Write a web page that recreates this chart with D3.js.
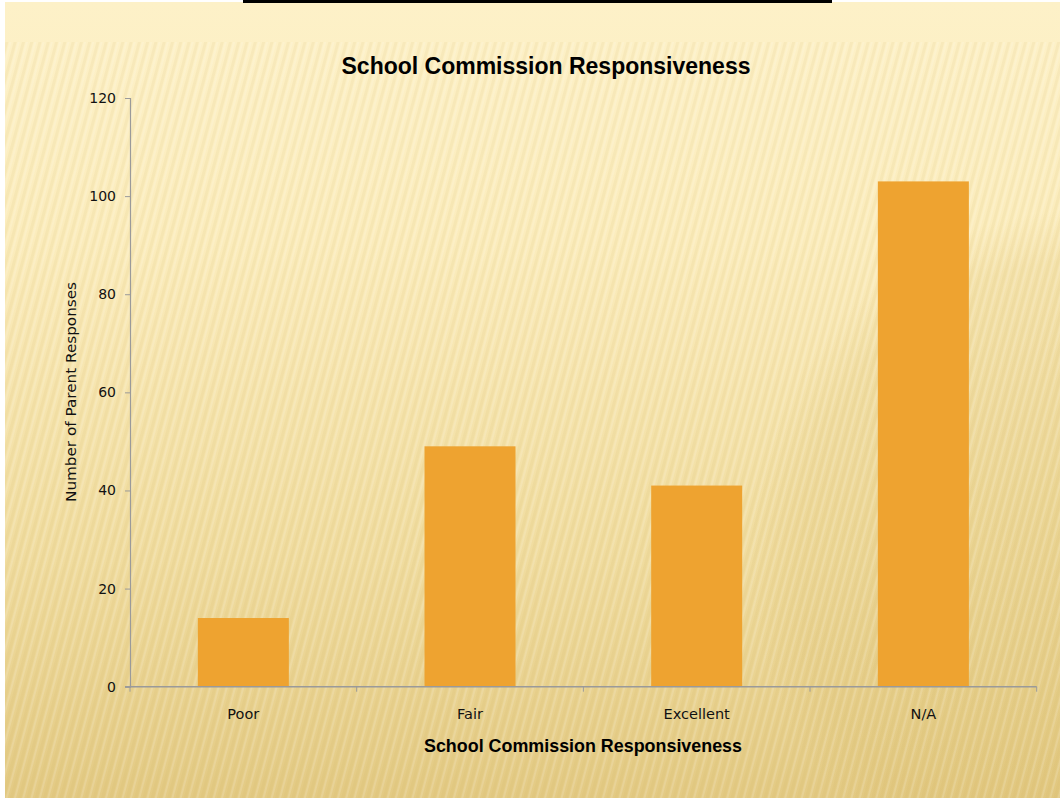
<!DOCTYPE html>
<html>
<head>
<meta charset="utf-8">
<script src="https://cdn.jsdelivr.net/npm/d3@7"></script>
<style>
  html, body { margin: 0; padding: 0; background: #ffffff; }
  svg { display: block; }
</style>
</head>
<body>
<svg id="chart" width="1060" height="798"></svg>
<script>
const categories = ["Poor", "Fair", "Excellent", "N/A"];
const values = [14, 49, 41, 103];
const yTicks = [0, 20, 40, 60, 80, 100, 120];
const chartTitle = "School Commission Responsiveness";
const xAxisTitle = "School Commission Responsiveness";
const yAxisTitle = "Number of Parent Responses";

(function () {
const W = 1060, H = 798;
const svg = d3.select("#chart");
const defs = svg.append("defs");

// background gradient
const bg = defs.append("linearGradient").attr("id", "bgGrad")
  .attr("x1", 0).attr("y1", 0).attr("x2", 0).attr("y2", 1);
bg.append("stop").attr("offset", "0%").attr("stop-color", "#fdf1c8");
bg.append("stop").attr("offset", "30%").attr("stop-color", "#fbecbc");
bg.append("stop").attr("offset", "70%").attr("stop-color", "#f0dc9f");
bg.append("stop").attr("offset", "100%").attr("stop-color", "#e3ca84");

const shade = defs.append("radialGradient").attr("id", "shade")
  .attr("cx", 0.5).attr("cy", 0.5).attr("r", 0.5);
shade.append("stop").attr("offset", "0%").attr("stop-color", "#d9bd6e").attr("stop-opacity", 0.3);
shade.append("stop").attr("offset", "85%").attr("stop-color", "#d9bd6e").attr("stop-opacity", 0.18);
shade.append("stop").attr("offset", "100%").attr("stop-color", "#d9bd6e").attr("stop-opacity", 0);

const pat = defs.append("pattern").attr("id", "stripes")
  .attr("patternUnits", "userSpaceOnUse").attr("width", 8).attr("height", 8)
  .attr("patternTransform", "rotate(15)");
pat.append("rect").attr("width", 3).attr("height", 8).attr("fill", "#c9a94f").attr("opacity", 0.09);
pat.append("rect").attr("x", 4).attr("width", 2).attr("height", 8).attr("fill", "#ffffff").attr("opacity", 0.14);

svg.append("rect").attr("x", 5).attr("y", 2).attr("width", W - 5).attr("height", H - 2).attr("fill", "url(#bgGrad)");
svg.append("ellipse").attr("cx", 1080).attr("cy", 560).attr("rx", 330).attr("ry", 350).attr("fill", "url(#shade)");
svg.append("rect").attr("x", 5).attr("y", 42).attr("width", W - 5).attr("height", H - 42).attr("fill", "url(#stripes)");

// top black bar
svg.append("rect").attr("x", 243).attr("y", 0).attr("width", 589).attr("height", 3).attr("fill", "#000");

// plot area
const pLeft = 130, pRight = 1036.7, pTop = 98, pBottom = 686.7;
const xb = d3.scaleBand().domain(categories).range([pLeft, pRight]);
const y = d3.scaleLinear().domain([0, 120]).range([pBottom, pTop]);

// bars
svg.append("g").selectAll("rect").data(values).join("rect")
  .attr("x", (d, i) => xb(categories[i]) + xb.bandwidth() / 2 - 45.5)
  .attr("width", 91)
  .attr("y", d => y(d))
  .attr("height", d => pBottom - y(d))
  .attr("fill", "#eea330");

// y axis
const yAxis = svg.append("g").attr("transform", `translate(${pLeft},0)`)
  .call(d3.axisLeft(y).tickValues(yTicks).tickSize(5).tickPadding(9));
yAxis.select(".domain").attr("stroke", "#9a9a9a").attr("stroke-width", 1.2);
yAxis.selectAll(".tick line").attr("stroke", "#9a9a9a");
yAxis.selectAll("text").attr("fill", "#111").style("font-family", "'DejaVu Sans', sans-serif").style("font-size", "14px");

// x axis (ticks at category boundaries)
const xAxisG = svg.append("g").attr("transform", `translate(0,${pBottom})`);
xAxisG.append("line").attr("x1", pLeft - 5).attr("x2", pRight).attr("y1", 0).attr("y2", 0)
  .attr("stroke", "#9a9a9a").attr("stroke-width", 1.5);
const boundaries = categories.map(c => xb(c)).concat([pRight]);
xAxisG.selectAll("line.tk").data(boundaries).join("line").attr("class", "tk")
  .attr("x1", d => d).attr("x2", d => d).attr("y1", 0).attr("y2", 5)
  .attr("stroke", "#9a9a9a");
xAxisG.selectAll("text").data(categories).join("text")
  .attr("x", d => xb(d) + xb.bandwidth() / 2)
  .attr("y", 32)
  .attr("text-anchor", "middle")
  .attr("fill", "#111")
  .style("font-family", "'DejaVu Sans', sans-serif").style("font-size", "14.5px")
  .text(d => d);

// titles
svg.append("text").attr("x", 546).attr("y", 74).attr("text-anchor", "middle")
  .attr("textLength", 409).attr("lengthAdjust", "spacingAndGlyphs")
  .style("font-family", "'Liberation Sans', Arial, sans-serif").style("font-size", "23px")
  .style("font-weight", "bold").attr("fill", "#000").text(chartTitle);

svg.append("text").attr("x", 583).attr("y", 752).attr("text-anchor", "middle")
  .attr("textLength", 318).attr("lengthAdjust", "spacingAndGlyphs")
  .style("font-family", "'Liberation Sans', Arial, sans-serif").style("font-size", "18px")
  .style("font-weight", "bold").attr("fill", "#000").text(xAxisTitle);

svg.append("text").attr("transform", "translate(76,392) rotate(-90)").attr("text-anchor", "middle")
  .attr("textLength", 220).attr("lengthAdjust", "spacingAndGlyphs")
  .style("font-family", "'DejaVu Sans', sans-serif").style("font-size", "14px")
  .attr("fill", "#111").text(yAxisTitle);
})();
</script>
</body>
</html>
